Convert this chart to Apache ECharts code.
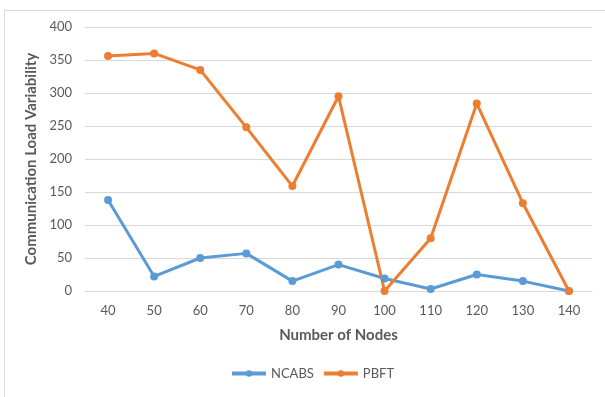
<!DOCTYPE html>
<html>
<head>
<meta charset="utf-8">
<script src="https://cdn.jsdelivr.net/npm/echarts@6/dist/echarts.min.js"></script>
<style>
  html, body { margin: 0; padding: 0; background: #fff; overflow: hidden; }
  #frame { position: absolute; left: 4px; top: 10px; width: 620px; height: 400px; border: 1px solid #d9d9d9; }
  #chart { position: absolute; left: 0; top: 0; width: 605px; height: 397px; }
</style>
</head>
<body>
<div id="frame"></div>
<div id="chart"></div>
<script>
  var nodes = ['40', '50', '60', '70', '80', '90', '100', '110', '120', '130', '140'];
  var ncabs = [138, 22, 50, 57, 15, 40, 19, 3, 25, 15, 0];
  var pbft = [356, 360, 335, 248, 159, 295, 0, 80, 284, 133, 0];

  var myChart = echarts.init(document.getElementById('chart'));
  var font = 'Lato, "Open Sans", sans-serif';
  myChart.setOption({
    animation: false,
    textStyle: { fontFamily: font },
    grid: { left: 85, right: 13, top: 27, bottom: 106 },
    legend: {
      bottom: 12,
      left: 225,
      itemWidth: 34,
      itemHeight: 8,
      itemGap: 8,
      lineStyle: { width: 4 },
      textStyle: { color: '#595959', fontSize: 13, fontFamily: font },
      data: ['NCABS', 'PBFT']
    },
    xAxis: {
      type: 'category',
      data: nodes,
      name: 'Number of Nodes',
      nameLocation: 'middle',
      nameGap: 37,
      nameTextStyle: { color: '#595959', fontSize: 15, fontWeight: 'bold' },
      axisLine: { lineStyle: { color: '#d9d9d9' } },
      axisTick: { show: false },
      axisLabel: { color: '#595959', fontSize: 13, margin: 13, interval: 0 }
    },
    yAxis: {
      type: 'value',
      min: 0,
      max: 400,
      interval: 50,
      name: 'Communication Load Variability',
      nameLocation: 'middle',
      nameGap: 43,
      nameTextStyle: { color: '#595959', fontSize: 15, fontWeight: 'bold' },
      axisLine: { show: false },
      axisTick: { show: false },
      axisLabel: { color: '#595959', fontSize: 13, margin: 13 },
      splitLine: { lineStyle: { color: '#d9d9d9' } }
    },
    series: [
      {
        name: 'NCABS',
        type: 'line',
        data: ncabs,
        symbol: 'circle',
        symbolSize: 8,
        color: '#5B9BD5',
        lineStyle: { width: 3, color: '#5B9BD5' },
        itemStyle: { color: '#5B9BD5' }
      },
      {
        name: 'PBFT',
        type: 'line',
        data: pbft,
        symbol: 'circle',
        symbolSize: 8,
        color: '#ED7D31',
        lineStyle: { width: 3, color: '#ED7D31' },
        itemStyle: { color: '#ED7D31' }
      }
    ]
  });
</script>
</body>
</html>
